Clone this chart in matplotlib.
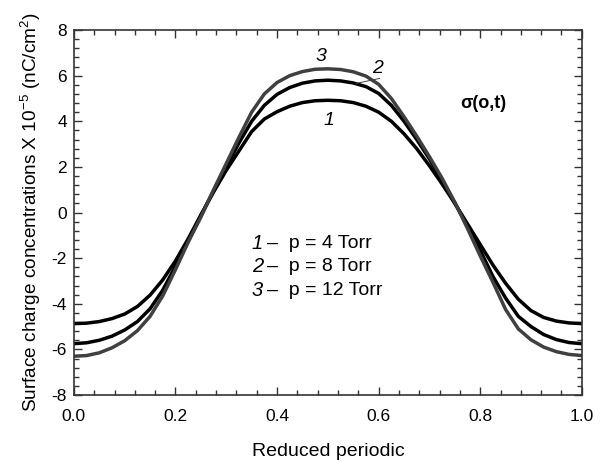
import numpy as np
import matplotlib
matplotlib.use('Agg')
import matplotlib.pyplot as plt
from matplotlib.ticker import MultipleLocator, FormatStrFormatter

plt.rcParams['font.family'] = ['Liberation Sans', 'DejaVu Sans']
plt.rcParams['axes.unicode_minus'] = False
plt.rcParams['mathtext.fontset'] = 'custom'
plt.rcParams['mathtext.rm'] = 'Liberation Sans'
plt.rcParams['mathtext.it'] = 'Liberation Sans:italic'

# reduced periodic coordinate
x = [0.000, 0.025, 0.050, 0.075, 0.100, 0.125, 0.150, 0.175, 0.200, 0.225,
     0.250, 0.275, 0.300, 0.325, 0.350, 0.375, 0.400, 0.425, 0.450, 0.475,
     0.500, 0.525, 0.550, 0.575, 0.600, 0.625, 0.650, 0.675, 0.700, 0.725,
     0.750, 0.775, 0.800, 0.825, 0.850, 0.875, 0.900, 0.925, 0.950, 0.975,
     1.000]
# surface charge, curve 1 (p = 4 Torr)
s1 = [-4.87, -4.85, -4.78, -4.65, -4.45, -4.12, -3.62, -2.95, -2.12, -1.15,
      -0.10, 0.90, 1.85, 2.70, 3.55, 4.10, 4.42, 4.66, 4.82, 4.90,
      4.92, 4.90, 4.82, 4.66, 4.40, 4.00, 3.45, 2.80, 2.05, 1.25,
      0.40, -0.50, -1.40, -2.30, -3.10, -3.80, -4.30, -4.60, -4.76, -4.84,
      -4.87]
# curve 2 (p = 8 Torr)
s2 = [-5.75, -5.71, -5.60, -5.42, -5.15, -4.78, -4.22, -3.40, -2.35, -1.25,
      -0.15, 0.95, 2.00, 3.05, 4.00, 4.70, 5.18, 5.48, 5.67, 5.77,
      5.80, 5.77, 5.68, 5.52, 5.22, 4.70, 4.00, 3.20, 2.35, 1.40,
      0.42, -0.60, -1.65, -2.80, -3.75, -4.55, -5.00, -5.35, -5.57, -5.70,
      -5.75]
# curve 3 (p = 12 Torr)
s3 = [-6.30, -6.27, -6.15, -5.93, -5.62, -5.18, -4.55, -3.65, -2.50, -1.30,
      -0.20, 1.00, 2.15, 3.30, 4.40, 5.20, 5.70, 6.00, 6.18, 6.28,
      6.30, 6.27, 6.17, 5.98, 5.62, 5.00, 4.20, 3.35, 2.45, 1.50,
      0.45, -0.70, -1.90, -3.05, -4.25, -5.10, -5.58, -5.90, -6.10, -6.22,
      -6.27]

labels = ['1', '2', '3']
pressures = ['p = 4 Torr', 'p = 8 Torr', 'p = 12 Torr']

fig = plt.figure(figsize=(6.01, 4.62), dpi=100)
ax = fig.add_axes([0.123, 0.145, 0.845, 0.790])

ax.plot(x, s1, color='black', lw=2.5)
ax.plot(x, s2, color='black', lw=2.5)
ax.plot(x, s3, color='#404040', lw=2.5)

ax.set_xlim(0, 1)
ax.set_ylim(-8, 8)
ax.xaxis.set_major_locator(MultipleLocator(0.2))
ax.xaxis.set_minor_locator(MultipleLocator(0.04))
ax.yaxis.set_major_locator(MultipleLocator(2))
ax.yaxis.set_minor_locator(MultipleLocator(0.4))
ax.xaxis.set_major_formatter(FormatStrFormatter('%.1f'))
ax.tick_params(which='both', direction='in', top=True, right=True,
               labelsize=12.5, color='#333333')
ax.tick_params(which='major', length=6, width=1)
ax.tick_params(which='minor', length=3.5, width=1)
ax.tick_params(axis='x', which='major', pad=10)
ax.tick_params(axis='y', which='major', pad=5)
for sp in ax.spines.values():
    sp.set_color('#333333')
    sp.set_linewidth(1.2)

ax.set_xlabel('Reduced periodic', fontsize=14, labelpad=14)
ax.set_ylabel(r'Surface charge concentrations X 10$^{\mathrm{-5}}$ (nC/cm$^{2}$)',
              fontsize=13.7, labelpad=6)

# curve numbers
ax.text(0.487, 6.82, '3', fontsize=14, style='italic', ha='center', va='center')
ax.text(0.597, 6.33, '2', fontsize=14, style='italic', ha='center', va='center')
ax.plot([0.602, 0.556], [5.88, 5.66], color='#404040', lw=0.7)
ax.text(0.502, 4.05, '1', fontsize=14, style='italic', ha='center', va='center')

ax.text(0.76, 4.8, r'σ(o,t)', fontsize=13, fontweight='bold', va='center')

# legend-like text
legend_y = [-1.34, -2.38, -3.40]
for i in range(3):
    ax.text(0.350, legend_y[i], labels[i], fontsize=14.5, style='italic', va='center')
    ax.text(0.381, legend_y[i], '–  ' + pressures[i], fontsize=14, va='center')

fig.savefig('out.png', dpi=100)
